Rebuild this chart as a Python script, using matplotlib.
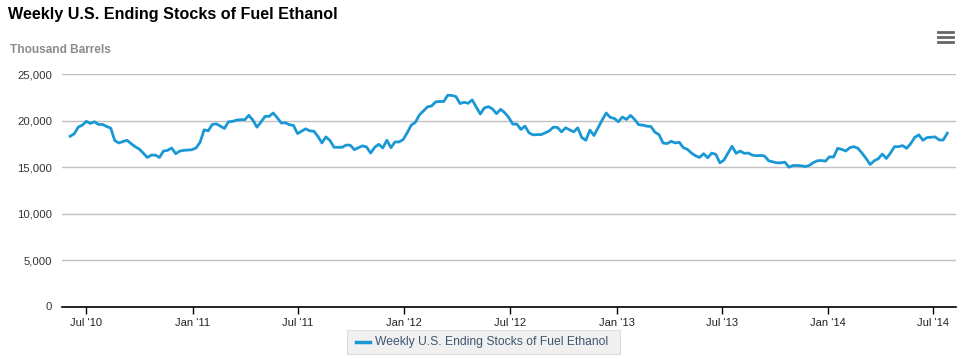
import numpy as np
import pandas as pd
import matplotlib
matplotlib.use('Agg')
from matplotlib import pyplot as plt
import matplotlib.dates as mdates
from matplotlib.patches import Rectangle
from matplotlib.lines import Line2D

plt.rcParams['font.family'] = ['Liberation Sans', 'DejaVu Sans']

title = 'Weekly U.S. Ending Stocks of Fuel Ethanol'
y_label = 'Thousand Barrels'
series_name = 'Weekly U.S. Ending Stocks of Fuel Ethanol'

# weekly, starting 2010-06-04
start_date = '2010-06-04'
stocks = [
    18330, 18590, 19310, 19530, 19930, 19710, 19890, 19600, 19600, 19380,
    19200, 17860, 17610, 17750, 17900, 17540, 17210, 16960, 16520, 16050,
    16300, 16300, 16050, 16740, 16810, 17070, 16450, 16740, 16810, 16850,
    16880, 17070, 17680, 19020, 18910, 19600, 19670, 19420, 19170, 19890,
    19930, 20070, 20110, 20110, 20580, 20070, 19310, 19860, 20470, 20470,
    20830, 20330, 19750, 19780, 19570, 19490, 18620, 18880, 19130, 18910,
    18880, 18330, 17610, 18260, 17860, 17140, 17140, 17140, 17390, 17360,
    16880, 17100, 17300, 17170, 16520, 17140, 17460, 17070, 17900, 17100,
    17720, 17720, 17970, 18700, 19530, 19820, 20620, 21050, 21490, 21590,
    22030, 22070, 22070, 22750, 22720, 22610, 21850, 21990, 21880, 22250,
    21490, 20720, 21380, 21520, 21270, 20760, 21230, 20870, 20360, 19640,
    19640, 19060, 19420, 18700, 18480, 18510, 18510, 18700, 18910, 19310,
    19280, 18800, 19240, 19020, 18800, 19240, 18190, 17900, 18990, 18410,
    19240, 20070, 20830, 20360, 20250, 19890, 20400, 20140, 20580, 20140,
    19570, 19530, 19420, 19380, 18770, 18510, 17600, 17540, 17790, 17610,
    17680, 17100, 16920, 16520, 16230, 16050, 16450, 16010, 16520, 16380,
    15470, 15760, 16520, 17250, 16490, 16740, 16490, 16520, 16300, 16230,
    16270, 16200, 15690, 15580, 15470, 15470, 15540, 15000, 15180, 15180,
    15150, 15070, 15180, 15490, 15690, 15720, 15650, 16120, 16090, 17030,
    16920, 16740, 17100, 17210, 17030, 16520, 15940, 15290, 15690, 15910,
    16410, 15940, 16520, 17210, 17210, 17320, 17030, 17540, 18220, 18480,
    17900, 18190, 18220, 18260, 17930, 17930, 18660,
]
dates = pd.date_range(start_date, periods=len(stocks), freq='7D')

y_ticks = [0, 5000, 10000, 15000, 20000, 25000]

line_color = '#1a98d5'

fig = plt.figure(figsize=(9.74, 3.59), dpi=100)
ax = fig.add_axes([62 / 974, 1 - 306.5 / 359, (956 - 62) / 974, (306.5 - 74.3) / 359])

ax.plot(dates, stocks, color=line_color, lw=2, solid_joinstyle='round')

ax.set_ylim(0, 25000)
ax.set_yticks(y_ticks)
ax.set_yticklabels(['{:,}'.format(v) for v in y_ticks])
ax.set_xlim(pd.Timestamp('2010-05-21'), pd.Timestamp('2014-08-09'))
ax.xaxis.set_major_locator(mdates.MonthLocator(bymonth=[1, 7]))
ax.xaxis.set_major_formatter(mdates.DateFormatter("%b '%y"))

ax.grid(axis='y', color='#c0c0c0', lw=1)
ax.set_axisbelow(True)
for s in ['top', 'right', 'left']:
    ax.spines[s].set_visible(False)
ax.spines['bottom'].set_color('#000000')
ax.spines['bottom'].set_linewidth(1.2)
ax.tick_params(axis='y', length=0, pad=7, labelsize=8.2, labelcolor='#333333')
ax.tick_params(axis='x', length=5, width=1, color='#000000', pad=3,
               labelsize=8.0, labelcolor='#222222')

fig.text(8 / 974, 1 - 14 / 359, title, fontsize=11.6, fontweight='bold',
         color='#000000', ha='left', va='center')
fig.text(10 / 974, 1 - 50 / 359, y_label, fontsize=8.6, fontweight='bold',
         color='#8c8c8c', ha='left', va='center')

# legend box
fig.patches.append(Rectangle((347 / 974, 1 - 354 / 359), (620 - 347) / 974, 24 / 359,
                             transform=fig.transFigure, facecolor='#f0f0f0',
                             edgecolor='#dcdcdc', lw=0.8))
fig.lines.append(Line2D([356 / 974, 370 / 974], [1 - 342 / 359] * 2,
                        transform=fig.transFigure, color=line_color, lw=2.5))
fig.text(375 / 974, 1 - 342 / 359, series_name, fontsize=8.7, color='#3e576f',
         ha='left', va='center')

# menu icon
for yy in [32, 37, 42]:
    fig.lines.append(Line2D([938 / 974, 953 / 974], [1 - yy / 359] * 2,
                            transform=fig.transFigure, color='#666666', lw=2.0))

fig.savefig('out.png', dpi=100)
